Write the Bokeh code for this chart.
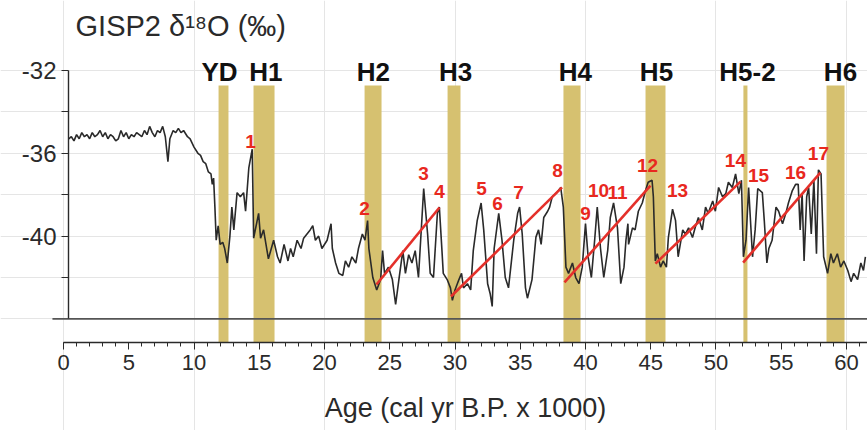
from bokeh.plotting import figure
from bokeh.models import Range1d, LinearAxis, FixedTicker, SingleIntervalTicker
from bokeh.core.properties import value
from bokeh.embed import file_html
from bokeh.resources import INLINE

# GISP2 d18O record (age in ka, d18O in permil)
age = [0.4, 0.6, 0.8, 1.0, 1.2, 1.4, 1.6, 1.8, 2.0, 2.2, 2.4, 2.6, 2.8, 3.0, 3.2, 3.4, 3.6, 3.8,
       4.0, 4.2, 4.4, 4.6, 4.8, 5.0, 5.2, 5.4, 5.6, 5.8, 6.0, 6.2, 6.4, 6.6, 6.8, 7.0, 7.2, 7.4,
       7.6, 7.8, 8.0, 8.15, 8.4, 8.6, 8.8, 9.0, 9.2, 9.5, 9.7, 10.0, 10.3, 10.5, 10.7, 10.9,
       11.1, 11.3, 11.4, 11.5, 11.6, 11.7, 11.85, 12.0, 12.2, 12.35, 12.55, 12.75, 12.9, 13.05,
       13.3, 13.55, 13.8, 13.95, 14.2, 14.46, 14.57, 14.95, 15.1, 15.33, 15.7, 16.1, 16.4, 16.6,
       16.9, 17.2, 17.4, 17.6, 17.9, 18.2, 18.4, 18.9, 19.1, 19.3, 19.55, 19.8, 20.2, 20.5, 20.6,
       20.85, 21.1, 21.4, 21.6, 21.85, 22.1, 22.4, 22.6, 22.9, 23.1, 23.3, 23.4, 23.7, 24.0, 24.3,
       24.45, 24.6, 24.9, 25.2, 25.45, 25.7, 26.0, 26.2, 26.45, 26.7, 26.95, 27.2, 27.6, 27.9,
       28.1, 28.35, 28.65, 28.8, 29.0, 29.1, 29.4, 29.65, 29.8, 30.0, 30.3, 30.5, 30.65, 30.95,
       31.2, 31.4, 31.7, 32.0, 32.2, 32.5, 32.7, 32.85, 33.0, 33.35, 33.6, 33.85, 34.1, 34.5,
       34.8, 34.95, 35.15, 35.4, 35.55, 35.9, 36.2, 36.4, 36.6, 36.8, 37.1, 37.25, 37.45, 37.8,
       38.1, 38.3, 38.5, 38.7, 39.0, 39.25, 39.5, 39.75, 40.0, 40.2, 40.45, 40.7, 40.9, 41.15,
       41.4, 41.7, 41.9, 42.15, 42.45, 42.7, 42.95, 43.1, 43.25, 43.3, 43.6, 43.8, 44.05, 44.35,
       44.6, 44.8, 45.1, 45.2, 45.35, 45.5, 45.75, 45.95, 46.2, 46.35, 46.67, 46.9, 47.1, 47.45,
       47.65, 47.9, 48.2, 48.4, 48.65, 48.95, 49.2, 49.4, 49.75, 49.95, 50.2, 50.5, 50.75, 50.95,
       51.25, 51.5, 51.75, 51.95, 52.1, 52.3, 52.5, 52.8, 53.0, 53.2, 53.55, 53.7, 53.9, 54.05,
       54.3, 54.45, 54.6, 54.8, 55.1, 55.35, 55.55, 55.85, 56.1, 56.3, 56.45, 56.6, 56.75, 56.95,
       57.1, 57.3, 57.5, 57.7, 57.85, 58.05, 58.25, 58.55, 58.8, 59.0, 59.3, 59.55, 59.8, 60.1,
       60.35, 60.55, 60.85, 61.1, 61.3, 61.45]
d18o = [-35.3, -35.2, -35.4, -35.1, -35.3, -35.0, -35.2, -35.1, -35.3, -35.0, -35.2, -35.1, -34.9,
        -35.2, -35.0, -35.3, -35.1, -35.2, -35.4, -35.3, -34.9, -35.2, -35.0, -35.3, -35.1, -35.2,
        -35.0, -35.1, -35.2, -34.9, -35.1, -34.7, -35.0, -35.2, -34.9, -35.0, -34.7, -35.2, -36.4,
        -35.3, -34.9, -35.0, -34.8, -35.0, -34.9, -35.2, -35.3, -35.7, -36.0, -36.1, -36.4, -36.5,
        -36.9, -37.0, -37.5, -37.2, -38.6, -40.2, -39.5, -40.4, -40.3, -40.6, -41.3, -40.0, -38.6,
        -39.7, -37.9, -38.1, -37.9, -38.8, -36.7, -35.8, -40.1, -38.9, -40.1, -39.7, -41.1, -40.2,
        -41.0, -41.3, -40.4, -41.2, -40.6, -41.0, -40.2, -40.6, -40.1, -39.7, -39.5, -40.2, -40.0,
        -40.6, -40.2, -39.4, -40.6, -41.3, -41.8, -41.9, -41.2, -41.5, -41.0, -41.3, -40.6, -39.9,
        -40.2, -39.25, -40.6, -42.0, -42.6, -42.1, -40.7, -41.8, -41.5, -42.1, -43.3, -42.1, -40.7,
        -41.8, -40.9, -41.3, -40.7, -42.0, -37.7, -39.9, -41.8, -42.0, -38.9, -38.6, -40.7, -41.8,
        -42.1, -42.5, -43.1, -42.6, -42.1, -41.8, -42.5, -42.3, -42.6, -40.7, -39.25, -38.4, -39.7,
        -42.3, -42.8, -43.4, -40.6, -38.9, -40.2, -42.0, -42.5, -40.2, -38.9, -38.6, -39.9, -42.5,
        -43.0, -42.1, -40.05, -39.7, -40.4, -39.1, -38.8, -38.6, -38.1, -37.9, -37.65, -38.6, -41.5,
        -41.8, -41.3, -42.0, -42.3, -41.5, -39.4, -41.0, -42.0, -40.2, -38.6, -40.6, -42.0, -40.7,
        -39.1, -38.4, -39.6, -42.3, -41.5, -40.2, -39.4, -40.4, -39.6, -39.7, -38.8, -38.4, -37.8,
        -37.4, -37.3, -38.1, -41.2, -40.85, -41.5, -41.2, -41.5, -40.07, -38.7, -39.25, -41.0,
        -39.7, -39.9, -39.6, -40.07, -39.6, -39.1, -39.7, -38.6, -38.9, -38.3, -38.8, -37.65, -38.1,
        -37.95, -37.4, -37.65, -37.0, -37.95, -37.3, -41.0, -40.2, -37.65, -41.0, -39.7, -37.7,
        -37.9, -39.25, -41.3, -40.6, -40.2, -39.4, -38.6, -38.8, -39.4, -38.9, -38.4, -37.8, -37.5,
        -37.5, -39.7, -37.95, -41.2, -38.1, -37.65, -39.9, -37.3, -40.85, -36.8, -37.0, -41.0,
        -41.8, -40.85, -41.3, -40.85, -41.5, -41.2, -41.66, -42.2, -41.8, -42.1, -41.3, -41.66,
        -41.0]

# Cold events (shaded bands)
event_names = ["YD", "H1", "H2", "H3", "H4", "H5", "H5-2", "H6"]
event_start = [11.88, 14.56, 23.07, 29.43, 38.31, 44.6, 52.1, 58.47]
event_end = [12.64, 16.17, 24.37, 30.42, 39.62, 46.13, 52.41, 59.85]
event_label_x = [11.95, 15.5, 23.75, 30.04, 39.23, 45.44, 52.41, 59.54]

# Numbered warm peaks
peak_labels = [str(i) for i in range(1, 18)]
peak_x = [14.33, 23.07, 27.59, 28.81, 32.03, 33.26, 34.87, 37.85, 40.0, 41.0, 42.45,
          44.75, 47.05, 51.49, 53.26, 56.09, 57.85]
peak_y = [-35.43, -38.67, -36.98, -37.85, -37.70, -38.43, -37.89, -36.83, -38.91, -37.80,
          -37.89, -36.59, -37.80, -36.35, -37.07, -36.93, -36.01]

# Red trend lines
trend_x0 = [23.98, 29.69, 38.39, 45.36, 52.08]
trend_y0 = [-42.34, -42.92, -42.23, -41.33, -41.28]
trend_x1 = [28.81, 38.2, 44.98, 51.88, 58.0]
trend_y1 = [-38.62, -37.65, -37.56, -37.37, -36.93]

# y axis ticks and labels
y_major = [-40, -36, -32]
y_ticks = [-44, -42, -40, -38, -36, -34, -32]
y_tick_labels = ["-40", "-36", "-32"]
y_axis_at = 0.38        # age at which the y axis is drawn
baseline = -44          # horizontal base line of the record panel
age_axis_at = -45.14    # level at which the age axis is drawn

FONT = value("Liberation Sans")
INK = "#2a2a2a"

p = figure(width=867, height=430, x_range=Range1d(-4.83, 61.61), y_range=Range1d(-49.39, -28.62),
           output_backend="svg", toolbar_location=None, title=None,
           x_axis_location=None, y_axis_location=None,
           min_border_left=0, min_border_right=0, min_border_top=0, min_border_bottom=0)
p.outline_line_color = None
p.background_fill_color = "white"

band_top = -32.72
p.quad(left=event_start, right=event_end, bottom=age_axis_at, top=band_top,
       fill_color="#d6c170", line_color=None)

p.segment(x0=[-0.85], y0=[baseline], x1=[61.61], y1=[baseline], line_color="#555555", line_width=1.6)

p.line(age, d18o, line_color=INK, line_width=1.6)

p.segment(x0=trend_x0, y0=trend_y0, x1=trend_x1, y1=trend_y1, line_color="#e4302a", line_width=2.6)

p.text(x=peak_x, y=peak_y, text=peak_labels, text_font=FONT, text_font_size="19px",
       text_font_style="bold", text_color="#e8281e", text_align="center", text_baseline="middle")

p.text(x=event_label_x, y=[-32.05] * len(event_names), text=event_names, text_font=FONT,
       text_font_size="26px", text_font_style="bold", text_color="#111111",
       text_align="center", text_baseline="middle")

p.text(x=[0.92], y=[-29.83], text=["GISP2 δ¹⁸O (‰)"], text_font=FONT, text_font_size="29px",
       text_color=INK, text_align="left", text_baseline="middle")

# y tick labels (drawn as text next to the axis)
p.text(x=[y_axis_at] * len(y_major), y=y_major, text=y_tick_labels, x_offset=-12,
       text_font=FONT, text_font_size="24px", text_color=INK,
       text_align="right", text_baseline="middle")

# x axis title, centred under the age axis
p.text(x=[30.8], y=[-48.28], text=["Age (cal yr B.P. x 1000)"], text_font=FONT,
       text_font_size="27px", text_color=INK, text_align="center", text_baseline="middle")

# y axis line and ticks drawn at its own location (all ticks as minor ticks, no labels)
yaxis = LinearAxis(fixed_location=y_axis_at, bounds=(baseline, -32),
                   ticker=FixedTicker(ticks=[], minor_ticks=y_ticks[1:]))
yaxis.axis_line_color = INK
yaxis.axis_line_width = 1.4
yaxis.minor_tick_line_color = INK
yaxis.minor_tick_line_width = 1.2
yaxis.major_tick_out = 0
yaxis.major_tick_in = 0
yaxis.minor_tick_out = 7
yaxis.minor_tick_in = 0
yaxis.major_label_standoff = 0
p.add_layout(yaxis, "left")

# age axis drawn at its own level
xa = LinearAxis(fixed_location=age_axis_at, bounds=(0, 62),
                ticker=SingleIntervalTicker(interval=5, num_minor_ticks=5))
xa.axis_line_color = INK
xa.axis_line_width = 1.4
xa.major_tick_line_color = INK
xa.minor_tick_line_color = INK
xa.major_tick_out = 7
xa.major_tick_in = 0
xa.minor_tick_out = 4
xa.minor_tick_in = 0
xa.major_label_text_font = "Liberation Sans"
xa.major_label_text_font_size = "22px"
xa.major_label_text_color = INK
xa.major_label_standoff = 5
p.add_layout(xa, "below")

open("out.html", "w").write(file_html(p, INLINE))
